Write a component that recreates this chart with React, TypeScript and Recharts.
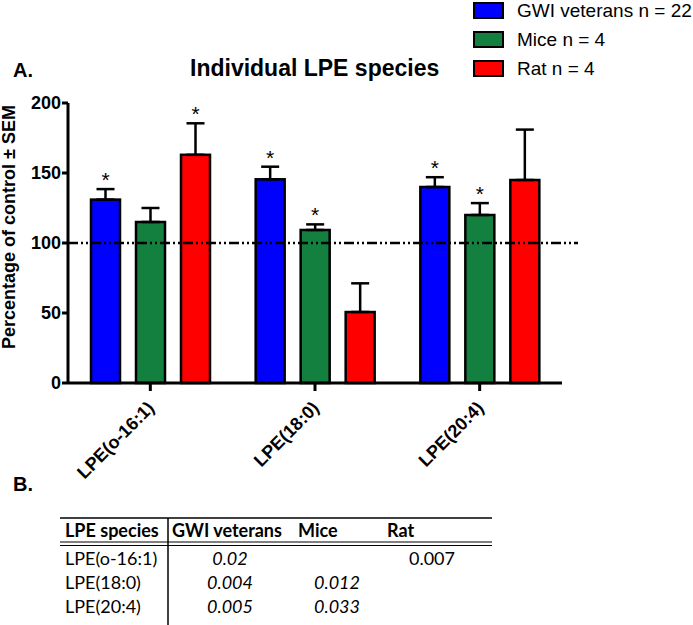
import React from "react";
import { BarChart, Bar, XAxis, YAxis, ErrorBar, ReferenceLine, Legend } from "recharts";

const categories = ["LPE(o-16:1)", "LPE(18:0)", "LPE(20:4)"];
const gwiValues = [131, 145.5, 140];
const gwiErrors = [7.5, 9, 7];
const gwiSig = [true, true, true];
const miceValues = [115, 109.3, 120];
const miceErrors = [10, 4, 8.5];
const miceSig = [false, true, true];
const ratValues = [163, 50.7, 145];
const ratErrors = [22.5, 20.5, 36];
const ratSig = [true, false, false];
const yTicks = [0, 50, 100, 150, 200];

const tableHeader = ["LPE species", "GWI veterans", "Mice", "Rat"];
const tableSpecies = ["LPE(o-16:1)", "LPE(18:0)", "LPE(20:4)"];
const tableGwi = ["0.02", "0.004", "0.005"];
const tableMice = ["", "0.012", "0.033"];
const tableRat = ["0.007", "", ""];

const series = [
  { key: "gwi", name: "GWI veterans n = 22", color: "#0000FF", values: gwiValues, errors: gwiErrors, sig: gwiSig },
  { key: "mice", name: "Mice n = 4", color: "#148040", values: miceValues, errors: miceErrors, sig: miceSig },
  { key: "rat", name: "Rat n = 4", color: "#FF0000", values: ratValues, errors: ratErrors, sig: ratSig },
];

const data = categories.map((c, i) => {
  const row: any = { name: c };
  series.forEach((s) => {
    row[s.key] = s.values[i];
    row[s.key + "Err"] = [0, s.errors[i]];
  });
  return row;
});

const FONT = "'Liberation Sans', Arial, sans-serif";
const TFONT = "Lato, 'Noto Sans', sans-serif";

const makeShape = (s: any) => (props: any) => {
  const { x, y, width, height, index } = props;
  const v = s.values[index];
  const ppu = v ? height / v : 0;
  const errTop = y - s.errors[index] * ppu;
  return (
    <g>
      <rect x={x} y={y} width={width} height={height} fill={s.color} stroke="#000" strokeWidth={2.5} />
      {s.sig[index] ? (
        <text x={x + width / 2} y={errTop - 2} textAnchor="middle" fontSize={21} fontFamily={FONT} fill="#000">
          *
        </text>
      ) : null}
    </g>
  );
};

const XTick = (props: any) => {
  const { x, y, payload } = props;
  const ax = x + 5;
  const ay = y + 16;
  return (
    <text
      x={ax}
      y={ay}
      transform={`rotate(-45, ${ax}, ${ay})`}
      textAnchor="end"
      fontSize={18}
      fontWeight="bold"
      fontFamily={FONT}
      fill="#000"
    >
      {payload.value}
    </text>
  );
};

const LegendContent = () => (
  <div style={{ fontFamily: FONT }}>
    {series.map((s) => (
      <div key={s.key} style={{ display: "flex", alignItems: "center", height: 29 }}>
        <div
          style={{
            width: 27,
            height: 13,
            background: s.color,
            border: "2px solid #000",
            marginRight: 13,
          }}
        />
        <span style={{ fontSize: 19, color: "#000", whiteSpace: "nowrap" }}>{s.name}</span>
      </div>
    ))}
  </div>
);

const RefShape = (p: any) => (
  <line
    x1={p.x1}
    y1={p.y1}
    x2={p.x2 + 16}
    y2={p.y2}
    stroke="#000"
    strokeWidth={2.5}
    strokeDasharray="10 3 2 3 2 3"
  />
);

export default function App() {
  const colCenters = [230, 337, 432];
  const rowBase = [565, 589, 613];
  return (
    <div style={{ position: "absolute", left: 0, top: 0, width: 693, height: 625, background: "#fff" }}>
      <BarChart
        width={693}
        height={500}
        data={data}
        margin={{ top: 103, right: 131, left: 8, bottom: 17 }}
        barCategoryGap={23}
        barGap={16}
      >
        <XAxis
          dataKey="name"
          axisLine={{ stroke: "#000", strokeWidth: 3 }}
          tickLine={{ stroke: "#000", strokeWidth: 3 }}
          tickSize={8}
          height={100}
          interval={0}
          tick={<XTick />}
        />
        <YAxis
          domain={[0, 200]}
          ticks={yTicks}
          width={60}
          axisLine={{ stroke: "#000", strokeWidth: 3 }}
          tickLine={{ stroke: "#000", strokeWidth: 3 }}
          tickSize={6}
          tickMargin={1}
          tick={{ fill: "#000", fontSize: 18, fontWeight: "bold", fontFamily: FONT }}
        />
        <ReferenceLine y={100} shape={RefShape} />
        {series.map((s) => (
          <Bar key={s.key} dataKey={s.key} name={s.name} fill={s.color} isAnimationActive={false} shape={makeShape(s)}>
            <ErrorBar dataKey={s.key + "Err"} width={9} stroke="#000" strokeWidth={2.5} direction="y" />
          </Bar>
        ))}
        <Legend
          layout="horizontal"
          verticalAlign="middle"
          align="center"
          content={<LegendContent />}
          wrapperStyle={{ position: "absolute", left: 473, top: -4, width: 220 }}
        />
      </BarChart>
      <svg
        width={693}
        height={625}
        style={{ position: "absolute", left: 0, top: 0, pointerEvents: "none" }}
      >
        <text x={190} y={76} fontSize={23} fontWeight="bold" fontFamily={FONT} fill="#000">
          Individual LPE species
        </text>
        <text x={13} y={77} fontSize={20} fontWeight="bold" fontFamily={FONT} fill="#000">
          A.
        </text>
        <text
          x={15}
          y={227}
          transform="rotate(-90, 15, 227)"
          textAnchor="middle"
          fontSize={18}
          fontWeight="bold"
          fontFamily={FONT}
          fill="#000"
        >
          Percentage of control ± SEM
        </text>
        <text x={13} y={491} fontSize={20} fontWeight="bold" fontFamily={FONT} fill="#000">
          B.
        </text>
        <line x1={60} y1={518} x2={492} y2={518} stroke="#000" strokeWidth={1.5} />
        <line x1={60} y1={542} x2={492} y2={542} stroke="#000" strokeWidth={1.2} />
        <line x1={60} y1={545.5} x2={492} y2={545.5} stroke="#000" strokeWidth={1.2} />
        <line x1={168} y1={518} x2={168} y2={625} stroke="#000" strokeWidth={1.5} />
        {tableHeader.map((h, i) => (
          <text
            key={h}
            x={[65, 172, 298, 387][i]}
            y={537}
            fontSize={18}
            fontWeight="bold"
            fontFamily={TFONT}
            fill="#000"
          >
            {h}
          </text>
        ))}
        {tableSpecies.map((sp, r) => (
          <g key={sp}>
            <text x={65} y={rowBase[r]} fontSize={18} fontFamily={TFONT} fill="#000">
              {sp}
            </text>
            <text x={colCenters[0]} y={rowBase[r]} textAnchor="middle" fontSize={18} fontStyle="italic" fontFamily={TFONT} fill="#000">
              {tableGwi[r]}
            </text>
            <text x={colCenters[1]} y={rowBase[r]} textAnchor="middle" fontSize={18} fontStyle="italic" fontFamily={TFONT} fill="#000">
              {tableMice[r]}
            </text>
            <text x={colCenters[2]} y={rowBase[r]} textAnchor="middle" fontSize={18} fontFamily={TFONT} fill="#000">
              {tableRat[r]}
            </text>
          </g>
        ))}
      </svg>
    </div>
  );
}
